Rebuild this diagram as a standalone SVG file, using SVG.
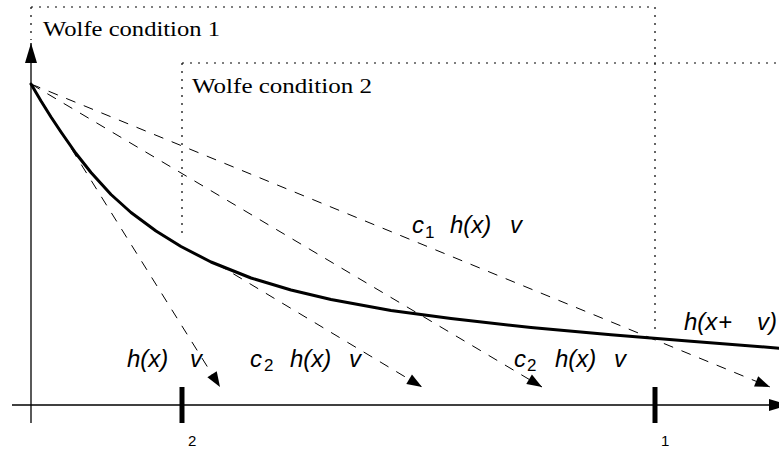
<svg xmlns="http://www.w3.org/2000/svg" width="779" height="451" viewBox="0 0 779 451">
<style>
.dot{fill:none;stroke:#000;stroke-width:1.2;stroke-dasharray:2 6}
.dash{fill:none;stroke:#000;stroke-width:1;stroke-dasharray:10 9}
.axis{fill:none;stroke:#000;stroke-width:1.3}
.curve{fill:none;stroke:#000;stroke-width:3;stroke-linejoin:round;stroke-linecap:round}
.tick{stroke:#000;stroke-width:5}
.cap{font-family:"Liberation Serif","Times New Roman",serif;font-size:20px;fill:#000}
.m{font-family:"Liberation Sans",Arial,sans-serif;font-style:italic;font-size:24px;fill:#000}
.sub{font-family:"Liberation Sans",Arial,sans-serif;font-size:17px;fill:#000}
.tl{font-family:"Liberation Sans",Arial,sans-serif;font-size:15px;fill:#000}
</style>
<defs>
<marker id="ah" viewBox="-16 -7 17 14" refX="0" refY="0" markerWidth="17" markerHeight="14" markerUnits="userSpaceOnUse" orient="auto"><path d="M0,0 L-15,-5.5 L-15,5.5 Z" fill="#000"/></marker>
<marker id="axh" viewBox="-21 -8 22 16" refX="0" refY="0" markerWidth="22" markerHeight="16" markerUnits="userSpaceOnUse" orient="auto"><path d="M0,0 L-20,-6 L-20,6 Z" fill="#000"/></marker>
</defs>
<g id="regions">
<path class="dot" d="M31,7 H655 V330"/>
<path class="dot" d="M31,7 V40"/>
<path class="dot" d="M182,63 H779"/>
<path class="dot" d="M182,63 V236"/>
<text class="cap" x="43" y="36" textLength="177" lengthAdjust="spacingAndGlyphs">Wolfe condition 1</text>
<text class="cap" x="192" y="93" textLength="180" lengthAdjust="spacingAndGlyphs">Wolfe condition 2</text>
</g>
<g id="axes">
<line class="axis" x1="31" y1="423" x2="31" y2="43" marker-end="url(#axh)"/>
<line class="axis" x1="12" y1="405" x2="789" y2="405" marker-end="url(#axh)"/>
<line class="tick" x1="182" y1="387" x2="182" y2="423"/>
<line class="tick" x1="655" y1="387" x2="655" y2="423"/>
<text class="tl" x="188" y="446">2</text>
<text class="tl" x="661" y="446">1</text>
</g>
<g id="curve">
<polyline class="curve" points="31,84 41,101 51,117 61,132 76,153.5 91,172.5 111,194.5 131,212.5 156,231 181,246.5 211,262 251,278 291,290 331,299.5 391,310.5 451,318.5 531,327.5 611,334.8 691,341.3 779,348.2"/>
</g>
<g id="connectors">
<line class="dash" x1="31" y1="84" x2="220" y2="387" marker-end="url(#ah)"/>
<line class="dash" x1="31" y1="84" x2="542" y2="387" marker-end="url(#ah)"/>
<line class="dash" x1="31" y1="84" x2="770" y2="387" marker-end="url(#ah)"/>
<line class="dash" x1="217" y1="264" x2="422" y2="387" marker-end="url(#ah)"/>
</g>
<g id="labels">
<text class="m" x="412" y="233">c</text><text class="sub" x="425" y="238">1</text>
<text class="m" x="450" y="233">h(x)</text><text class="m" x="510" y="233">v</text>
<text class="m" x="127" y="367">h(x)</text><text class="m" x="190" y="367">v</text>
<text class="m" x="250" y="367">c</text><text class="sub" x="264" y="371">2</text>
<text class="m" x="290" y="367">h(x)</text><text class="m" x="349" y="367">v</text>
<text class="m" x="514" y="367">c</text><text class="sub" x="527" y="371">2</text>
<text class="m" x="555" y="367">h(x)</text><text class="m" x="614" y="367">v</text>
<text class="m" x="684" y="330">h(x</text><text class="m" x="718" y="330">+</text><text class="m" x="757" y="330">v)</text>
</g>
</svg>
